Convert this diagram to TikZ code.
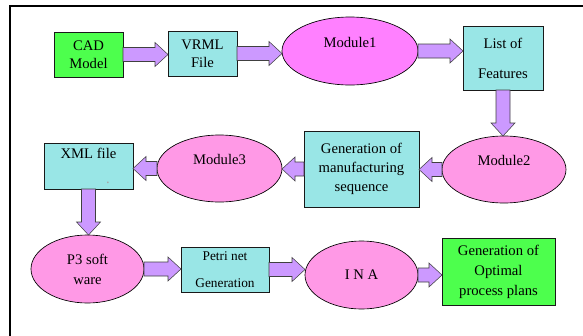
\documentclass[tikz,border=0pt]{standalone}
\usepackage{fontspec}
\setmainfont{Liberation Serif}
\newfontfamily\flowfont{Liberation Serif}
\usetikzlibrary{shapes.geometric, calc}
\definecolor{cadgreen}{RGB}{77,255,77}
\definecolor{filecyan}{RGB}{153,230,230}
\definecolor{modmagenta}{RGB}{255,128,255}
\definecolor{modpink}{RGB}{255,153,230}
\definecolor{flowviolet}{RGB}{204,153,255}
\definecolor{flowedge}{RGB}{64,64,64}

% fat block arrow from #1 to #2 (tip at #2)
\newcommand{\flowarrow}[2]{%
  \coordinate (neck) at ($(#2)!9.75pt!(#1)$);
  \draw[flow] ($(#1)!5.25pt!90:(#2)$) -- ($(neck)!5.25pt!90:(#2)$)
    -- ($(neck)!9pt!90:(#2)$) -- (#2) -- ($(neck)!9pt!-90:(#2)$)
    -- ($(neck)!5.25pt!-90:(#2)$) -- ($(#1)!5.25pt!-90:(#2)$) -- cycle;}

\begin{document}
\begin{tikzpicture}[
    x=0.75pt, y=-0.75pt,
    box/.style={rectangle, draw=black!90, line width=0.7pt, inner sep=0pt, outer sep=0pt, align=center, font=\flowfont\fontsize{11}{13.5}\selectfont},
    module/.style={ellipse, draw=black, line width=0.5pt, inner sep=0pt, outer sep=0pt, align=center, font=\flowfont\fontsize{11}{13.5}\selectfont},
    flow/.style={fill=flowviolet, draw=flowedge, line width=0.4pt, line join=miter}
]
\useasboundingbox (0,0) rectangle (583,336);

% Frame
\draw[line width=1.5pt] (583,6) -- (10,6) -- (10,336);

% First row
\node[box, fill=cadgreen, minimum width=51.75pt, minimum height=33.75pt] (cad) at (88.5,54.5) {CAD\\Model};
\node[box, fill=filecyan, minimum width=51.75pt, minimum height=33.75pt] (vrml) at (202.5,53.5) {VRML\\File};
\node[module, fill=modmagenta, minimum width=102pt, minimum height=51pt] (mod1) at (350,51) {Module1\\\mbox{}};
\node[box, fill=filecyan, minimum width=60pt, minimum height=48pt] (features) at (503,58) {List of\\[9pt]Features};

% Second row
\node[module, fill=modpink, minimum width=93pt, minimum height=50.25pt] (mod2) at (504,169.5) {Module2\\\mbox{}};
\node[box, fill=filecyan, minimum width=86.25pt, minimum height=57pt] (sequence) at (361.5,169) {Generation of\\[1pt]manufacturing\\[1pt]sequence};
\node[module, fill=modpink, minimum width=93.75pt, minimum height=50.25pt] (mod3) at (219.5,168.5) {Module3\\\mbox{}};
\node[box, fill=filecyan, minimum width=66.75pt, minimum height=34.5pt, align=left] (xml) at (88.5,166) {XML file\\[5pt]\hspace*{3.1em}{\color{black!35}.}};

% Third row
\node[module, fill=modpink, minimum width=84.75pt, minimum height=51pt] (p3) at (87.5,269) {P3 soft\\[1.5pt]ware};
\node[box, fill=filecyan, minimum width=66pt, minimum height=33.75pt, font=\flowfont\fontsize{10}{13}\selectfont] (petri) at (225,269.5) {Petri net\\[7pt]Generation};
\node[module, fill=modpink, minimum width=84.75pt, minimum height=51pt] (ina) at (361.5,275) {I N A};
\node[box, fill=cadgreen, minimum width=84.75pt, minimum height=50.25pt] (plans) at (498.5,271.5) {Generation of\\[1.5pt]Optimal\\[1.5pt]process plans};

% Arrows
\flowarrow{cad.east}{cad.east -| vrml.west}
\flowarrow{vrml.east}{vrml.east -| mod1.west}
\flowarrow{mod1.east}{mod1.east -| features.west}
\flowarrow{features.south}{features.south |- mod2.north}
\flowarrow{mod2.west}{mod2.west -| sequence.east}
\flowarrow{sequence.west}{sequence.west -| mod3.east}
\flowarrow{mod3.west}{mod3.west -| xml.east}
\flowarrow{xml.south}{xml.south |- p3.north}
\flowarrow{p3.east}{p3.east -| petri.west}
\flowarrow{petri.east}{petri.east -| ina.west}
\flowarrow{ina.east}{ina.east -| plans.west}
\end{tikzpicture}
\end{document}
